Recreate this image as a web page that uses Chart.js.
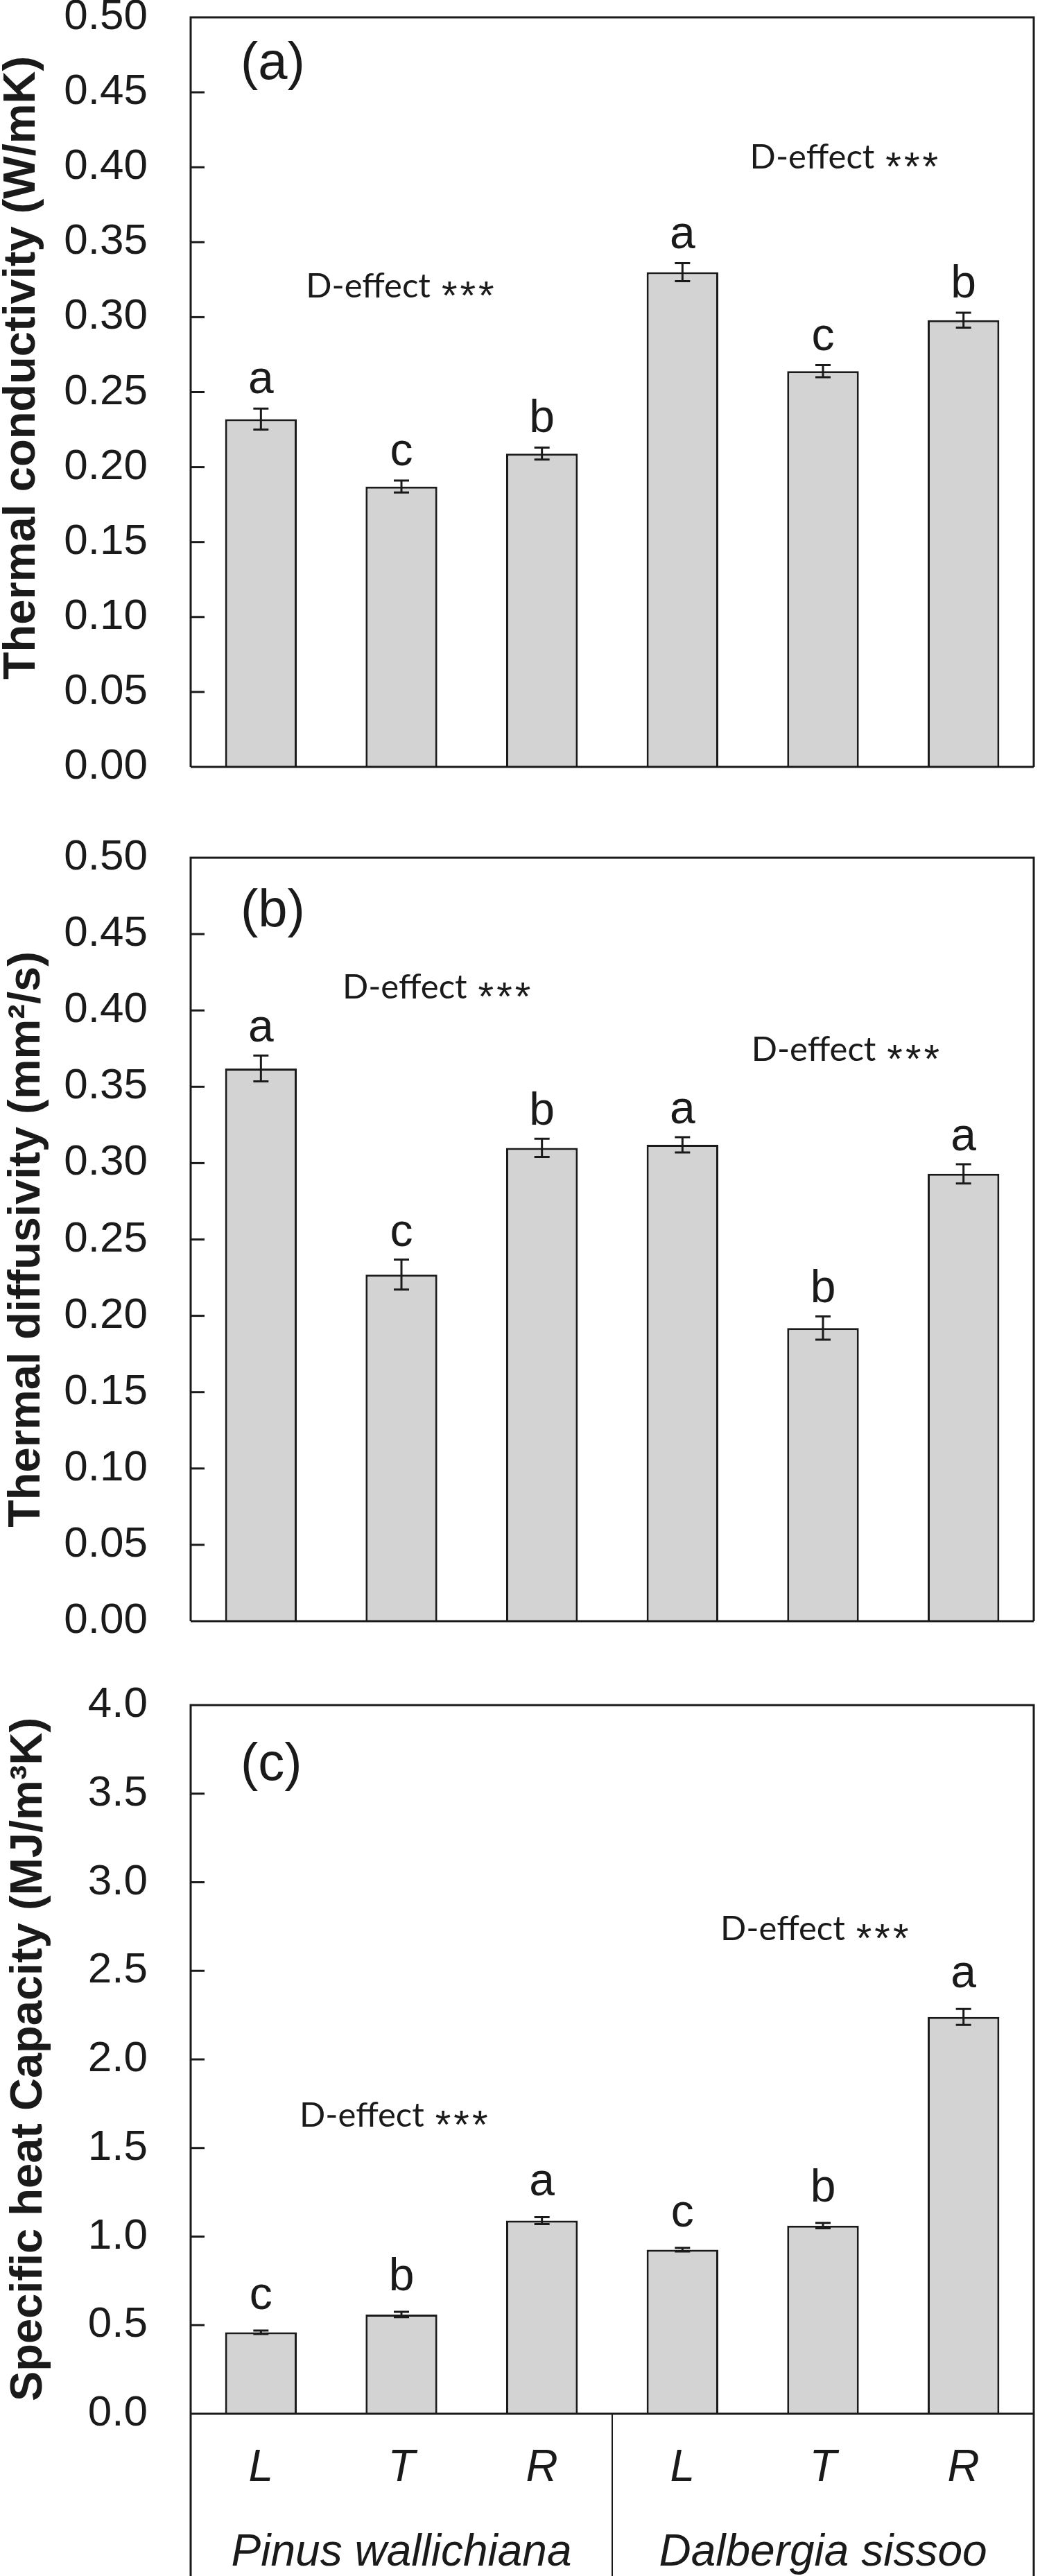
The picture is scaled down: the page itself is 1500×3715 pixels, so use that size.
<!DOCTYPE html>
<html>
<head>
<meta charset="utf-8">
<script src="https://cdn.jsdelivr.net/npm/chart.js@4.4.1/dist/chart.umd.min.js"></script>
<style>
  html, body { margin: 0; padding: 0; background: #fff; }
  body { width: 1500px; height: 3715px; position: relative; overflow: hidden; }
  canvas { position: absolute; left: 0; }
</style>
</head>
<body>
<canvas id="chart-a" width="1500" height="1201" style="top:-35px"></canvas>
<canvas id="chart-b" width="1500" height="1221" style="top:1177px"></canvas>
<canvas id="chart-c" width="1500" height="1316" style="top:2399px"></canvas>
<script>
// Thermal properties of two wood species, three directions each

const categories = ['L', 'T', 'R', 'L', 'T', 'R'];
const species = ['Pinus wallichiana', 'Dalbergia sissoo'];

const conductivity = [0.232, 0.187, 0.209, 0.330, 0.264, 0.298];
const conductivityErr = [0.007, 0.004, 0.004, 0.006, 0.004, 0.005];
const conductivityLetters = ['a', 'c', 'b', 'a', 'c', 'b'];

const diffusivity = [0.362, 0.227, 0.310, 0.312, 0.192, 0.293];
const diffusivityErr = [0.0085, 0.0098, 0.006, 0.005, 0.0076, 0.0063];
const diffusivityLetters = ['a', 'c', 'b', 'a', 'b', 'a'];

const heatCapacity = [0.46, 0.56, 1.09, 0.926, 1.062, 2.24];
const heatCapacityErr = [0.01, 0.015, 0.02, 0.01, 0.015, 0.045];
const heatCapacityLetters = ['c', 'b', 'a', 'c', 'b', 'a'];

const effectWord = 'D-effect';
const effectStars = '***';

const FONT = "'Liberation Sans', Arial, sans-serif";
const NOTE_FONT = "Lato, 'Open Sans', sans-serif";
const INK = '#1a1a1a';

function panelPlugin(p) {
  return {
    id: 'panelDecor',
    afterDatasetsDraw(chart) {
      const { ctx, chartArea: a, scales: { x, y } } = chart;
      ctx.save();
      ctx.strokeStyle = INK;
      ctx.fillStyle = INK;
      ctx.lineWidth = 3;

      // error bars + significance letters
      p.values.forEach((v, i) => {
        const cx = x.getPixelForValue(i);
        const top = y.getPixelForValue(v + p.errors[i]);
        const bot = y.getPixelForValue(v - p.errors[i]);
        ctx.beginPath();
        ctx.moveTo(cx, top); ctx.lineTo(cx, bot);
        ctx.moveTo(cx - 11, top); ctx.lineTo(cx + 11, top);
        ctx.moveTo(cx - 11, bot); ctx.lineTo(cx + 11, bot);
        ctx.stroke();
        ctx.font = `66px ${FONT}`;
        ctx.textAlign = 'center';
        ctx.textBaseline = 'alphabetic';
        ctx.fillText(p.letters[i], cx, top - p.letterGap);
      });

      // D-effect notes
      ctx.textAlign = 'left';
      p.notes.forEach(n => {
        const nx = x.getPixelForValue(n.at);
        const ny = y.getPixelForValue(n.value);
        ctx.font = `49px ${NOTE_FONT}`;
        ctx.fillText(effectWord, nx, ny);
        const w = ctx.measureText(effectWord).width;
        ctx.font = `58px ${FONT}`;
        ctx.letterSpacing = '4px';
        ctx.fillText(effectStars, nx + w + 16, ny + 17);
        ctx.letterSpacing = '0px';
      });

      // panel tag
      ctx.font = `76px ${FONT}`;
      ctx.fillText(p.tag, a.left + 72, a.top + p.tagOffset);
      ctx.restore();
    },
    afterDraw(chart) {
      const { ctx, chartArea: a, scales: { x, y } } = chart;
      ctx.save();
      ctx.strokeStyle = INK;
      ctx.fillStyle = INK;
      ctx.lineWidth = 3;
      const bottom = p.groups ? chart.height : a.bottom;

      // frame
      ctx.beginPath();
      ctx.moveTo(a.left, bottom); ctx.lineTo(a.left, a.top);
      ctx.lineTo(a.right, a.top); ctx.lineTo(a.right, bottom);
      ctx.moveTo(a.left, a.bottom); ctx.lineTo(a.right, a.bottom);
      ctx.stroke();

      // inward ticks
      y.ticks.forEach(t => {
        if (t.value <= y.min || t.value >= y.max) return;
        const py = y.getPixelForValue(t.value);
        ctx.beginPath();
        ctx.moveTo(a.left, py); ctx.lineTo(a.left + 20, py);
        ctx.stroke();
      });

      // group divider + species names
      if (p.groups) {
        const mid = (x.getPixelForValue(2) + x.getPixelForValue(3)) / 2;
        ctx.lineWidth = 2;
        ctx.beginPath();
        ctx.moveTo(mid, a.bottom); ctx.lineTo(mid, chart.height);
        ctx.stroke();
        ctx.font = `italic 64px ${FONT}`;
        ctx.textAlign = 'center';
        ctx.textBaseline = 'alphabetic';
        species.forEach((s, g) => {
          ctx.fillText(s, x.getPixelForValue(g * 3 + 1), a.bottom + 219);
        });
      }

      // y title
      ctx.font = `bold 65px ${FONT}`;
      ctx.textAlign = 'center';
      ctx.textBaseline = 'alphabetic';
      ctx.translate(p.titleX, (a.top + a.bottom) / 2 + p.titleShift);
      ctx.rotate(-Math.PI / 2);
      ctx.fillText(p.title, 0, 0);
      ctx.restore();
    }
  };
}

function makePanel(id, p) {
  return new Chart(document.getElementById(id), {
    type: 'bar',
    data: {
      labels: categories,
      datasets: [{
        data: p.values,
        backgroundColor: '#d3d3d3',
        borderColor: INK,
        borderWidth: 3,
        barPercentage: 0.51,
        categoryPercentage: 1,
      }]
    },
    options: {
      responsive: false,
      animation: false,
      devicePixelRatio: 1,
      layout: { padding: { left: 0, right: 9, top: 60, bottom: p.groups ? 0 : 60 } },
      plugins: { legend: { display: false }, tooltip: { enabled: false } },
      scales: {
        x: {
          display: !!p.groups,
          grid: { display: false, drawTicks: false },
          border: { display: false },
          ticks: { color: INK, padding: 41, font: { family: FONT, size: 64, style: 'italic' } },
          afterFit: s => {
            s.height = p.groups ? 234 : 0;
            s.paddingLeft = 0; s.paddingRight = 0;
          },
        },
        y: {
          min: 0,
          max: p.max,
          grid: { display: false, drawTicks: false },
          border: { display: false },
          ticks: {
            stepSize: p.step,
            color: INK,
            padding: 62,
            font: { family: FONT, size: 62 },
            callback: v => Number(v).toFixed(p.decimals),
          },
          afterFit: s => {
            s.width = 275;
            s.paddingTop = 0; s.paddingBottom = 0;
          },
        }
      }
    },
    plugins: [panelPlugin(p)],
  });
}

makePanel('chart-a', {
  values: conductivity, errors: conductivityErr, letters: conductivityLetters,
  max: 0.5, step: 0.05, decimals: 2, letterGap: 22,
  tag: '(a)', tagOffset: 89,
  title: 'Thermal conductivity (W/mK)', titleX: 50, titleShift: -35,
  notes: [{ at: 0.32, value: 0.313 }, { at: 3.48, value: 0.399 }],
});

makePanel('chart-b', {
  values: diffusivity, errors: diffusivityErr, letters: diffusivityLetters,
  max: 0.5, step: 0.05, decimals: 2, letterGap: 20,
  tag: '(b)', tagOffset: 99,
  title: 'Thermal diffusivity (mm²/s)', titleX: 57, titleShift: 0,
  notes: [{ at: 0.58, value: 0.408 }, { at: 3.49, value: 0.367 }],
});

makePanel('chart-c', {
  values: heatCapacity, errors: heatCapacityErr, letters: heatCapacityLetters,
  max: 4, step: 0.5, decimals: 1, letterGap: 31,
  tag: '(c)', tagOffset: 108, groups: true,
  title: 'Specific heat Capacity (MJ/m³K)', titleX: 60, titleShift: 0,
  notes: [{ at: 0.275, value: 1.62 }, { at: 3.27, value: 2.673 }],
});
</script>
</body>
</html>
